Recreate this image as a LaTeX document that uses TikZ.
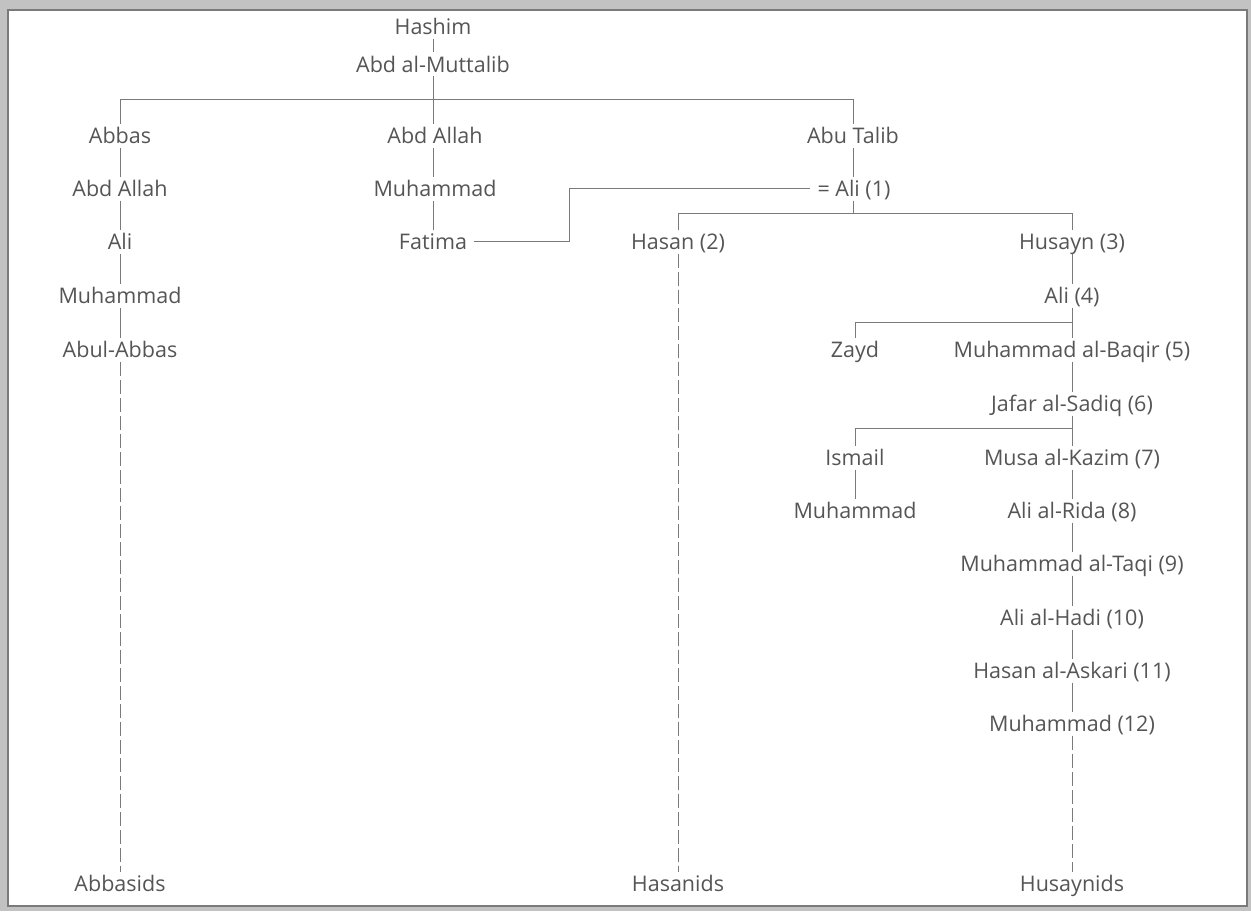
\documentclass[tikz,border=0pt]{standalone}
\usepackage{fontspec}
\setmainfont{Open Sans}
\definecolor{txt}{HTML}{555555}
\definecolor{ln}{HTML}{7A7A7A}
\definecolor{scan}{HTML}{C2C2C2}
\begin{document}
\begin{tikzpicture}[x=1pt,y=-1pt,
  person/.style={font=\fontsize{21.5}{24}\selectfont, text=txt, anchor=base,
    text height=15.5pt, text depth=0pt, inner ysep=4pt, inner xsep=7pt},
  link/.style={draw=ln, line width=1pt},
  dashlink/.style={draw=ln, line width=1pt, dash pattern=on 14pt off 4pt}]
\useasboundingbox (0,0) rectangle (1251,911);
\fill[scan] (0,0) rectangle (1251,911);
\filldraw[fill=white, draw=ln, line width=1.5pt] (8,10) rectangle (1247,906);

% top
\node[person] (hashim) at (433,34.5) {Hashim};
\node[person] (mutt) at (433,72) {Abd al-Muttalib};
% row 2
\node[person] (abbas) at (120,143.5) {Abbas};
\node[person] (abdallahM) at (435,143.5) {Abd Allah};
\node[person] (abutalib) at (853,143.5) {Abu Talib};
% row 3
\node[person] (abdallahL) at (120,196.5) {Abd Allah};
\node[person] (prophet) at (435,196.5) {Muhammad};
\node[person] (ali1) at (854,196.5) {= Ali (1)};
% row 4
\node[person] (aliL) at (120,249.5) {Ali};
\node[person] (fatima) at (433,249.5) {Fatima};
\node[person] (hasan) at (678,249.5) {Hasan (2)};
\node[person] (husayn) at (1072,249.5) {Husayn (3)};
% row 5
\node[person] (muhL) at (120,303.5) {Muhammad};
\node[person] (ali4) at (1072,303.5) {Ali (4)};
% row 6
\node[person] (abulabbas) at (120,357.5) {Abul-Abbas};
\node[person] (zayd) at (855,357.5) {Zayd};
\node[person] (baqir) at (1072,357.5) {Muhammad al-Baqir (5)};
% rest of right column
\node[person] (jafar) at (1072,411.5) {Jafar al-Sadiq (6)};
\node[person] (ismail) at (855,465.5) {Ismail};
\node[person] (musa) at (1072,465.5) {Musa al-Kazim (7)};
\node[person] (muhI) at (855,518.5) {Muhammad};
\node[person] (rida) at (1072,518.5) {Ali al-Rida (8)};
\node[person] (taqi) at (1072,571.5) {Muhammad al-Taqi (9)};
\node[person] (hadi) at (1072,625.5) {Ali al-Hadi (10)};
\node[person] (askari) at (1072,678.5) {Hasan al-Askari (11)};
\node[person] (mahdi) at (1072,731.5) {Muhammad (12)};
% bottom
\node[person] (abbasids) at (120,891.5) {Abbasids};
\node[person] (hasanids) at (678,891.5) {Hasanids};
\node[person] (husaynids) at (1072,891.5) {Husaynids};

% branch levels and fixed line positions
\coordinate (b1) at (0,99);
\coordinate (b2) at (0,213);
\coordinate (b3) at (0,322);
\coordinate (b4) at (0,428);
\coordinate (fx) at (569,0);
\coordinate (mx) at (433,0);
\coordinate (ax) at (853,0);

% connectors
\draw[link] (hashim.south) -- (mutt.north);
\draw[link] (mutt.south) -- (mx |- abdallahM.north);
\draw[link] (abbas.north) -- (abbas.north |- b1) -- (abutalib.north |- b1) -- (abutalib.north);
\draw[link] (mx |- abdallahM.south) -- (mx |- prophet.north);
\draw[link] (mx |- prophet.south) -- (fatima.north);
\draw[link] (abbas.south) -- (abdallahL.north);
\draw[link] (abdallahL.south) -- (aliL.north);
\draw[link] (aliL.south) -- (muhL.north);
\draw[link] (muhL.south) -- (abulabbas.north);
\draw[dashlink] (abulabbas.south) -- (abbasids.north);
\draw[link] (abutalib.south) -- (ax |- ali1.north);
\draw[link] (fatima.east) -| (fx |- ali1.west) -- (ali1.west);
\draw[link] (ax |- ali1.south) -- (ax |- b2);
\draw[link] (hasan.north) -- (hasan.north |- b2) -- (husayn.north |- b2) -- (husayn.north);
\draw[dashlink] (hasan.south) -- (hasanids.north);
\draw[link] (husayn.south) -- (ali4.north);
\draw[link] (zayd.north) -- (zayd.north |- b3) -- (ali4.south |- b3);
\draw[link] (ali4.south) -- (baqir.north);
\draw[link] (baqir.south) -- (jafar.north);
\draw[link] (ismail.north) -- (ismail.north |- b4) -- (jafar.south |- b4);
\draw[link] (jafar.south) -- (musa.north);
\draw[link] (ismail.south) -- (muhI.north);
\draw[link] (musa.south) -- (rida.north);
\draw[link] (rida.south) -- (taqi.north);
\draw[link] (taqi.south) -- (hadi.north);
\draw[link] (hadi.south) -- (askari.north);
\draw[link] (askari.south) -- (mahdi.north);
\draw[dashlink] (mahdi.south) -- (husaynids.north);
\end{tikzpicture}
\end{document}
